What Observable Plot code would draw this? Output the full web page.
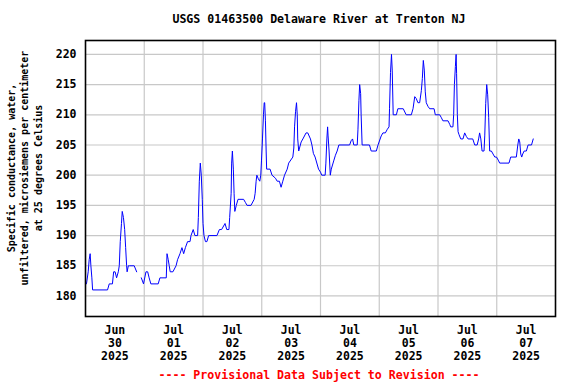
<!DOCTYPE html>
<html>
<head>
<meta charset="utf-8">
<script src="https://cdn.jsdelivr.net/npm/d3@7"></script>
<script src="https://cdn.jsdelivr.net/npm/@observablehq/plot@0.6"></script>
<style>
  html, body { margin: 0; padding: 0; background: #fff; }
</style>
</head>
<body>
<div id="chart"></div>
<script>
// Hours since 2025-06-30 00:00 and specific conductance readings (null = missing)
const hours = [0,0.4,1.1,1.5,1.9,2.2,2.6,2.9,9.0,9.7,11.0,11.5,12.1,12.7,13.4,13.8,14.2,14.7,15.0,15.5,16.0,16.4,16.8,17.0,17.5,18.0,19.9,20.9,21.8,22.8,23.7,24.7,25.4,26.0,26.7,29.7,30.4,33.0,33.3,33.8,34.2,34.6,35.7,37.0,37.6,38.6,39.4,40.1,40.8,41.7,42.7,43.1,44.0,44.7,45.8,46.1,46.5,46.9,47.3,47.7,48.0,48.4,49.0,49.6,50.3,53.7,54.7,55.6,57.0,57.7,58.6,58.9,59.5,59.7,60.0,60.4,60.7,61.0,61.6,62.3,64.6,65.3,66.0,67.6,68.9,69.3,69.7,70.0,70.6,71.2,71.6,71.9,72.3,72.7,73.0,73.2,73.5,73.8,74.0,75.4,76.2,77.6,78.3,79.2,79.9,80.6,81.3,82.4,83.0,84.7,85.1,85.4,85.8,86.2,86.5,86.7,87.1,88.1,88.8,90.1,90.8,91.9,92.5,93.1,93.8,95.2,96.0,96.5,97.9,98.2,98.6,98.9,99.1,99.5,100.0,100.4,101.5,102.1,102.8,103.5,107.9,108.5,109.1,109.6,111.0,111.3,111.7,112.0,112.4,112.6,113.0,116.0,116.7,118.8,119.5,120.8,121.5,122.5,123.3,124.0,124.2,124.6,125.0,125.3,125.7,127.0,127.6,129.8,131.0,133.1,133.8,134.5,135.1,135.8,136.5,137.2,137.6,138.0,138.4,138.8,139.2,139.9,140.6,142.4,142.9,144.7,145.4,146.0,148.1,148.8,149.2,150.1,150.4,150.7,151.1,151.4,151.6,151.9,152.2,152.6,153.3,154.2,154.9,155.6,156.3,158.2,159.0,160.0,160.6,161.0,161.5,162.0,162.8,163.1,163.5,163.9,164.3,164.7,165.1,165.8,166.5,167.2,167.9,168.6,169.2,173.0,173.7,176.0,176.6,177.0,177.4,177.8,178.2,178.6,179.2,180.1,180.8,182.2,182.9];
const values = [182,182,184,186,187,185,183,181,181,182,182,184,184,183,184,185,189,192,194,193,191,188,185,184,185,185,185,184,null,183,182,184,184,183,182,182,183,183,187,186,185,184,184,185,186,187,188,187,188,189,189,190,191,190,190,193,199,202,200,196,192,190,189,189,190,190,191,191,192,191,191,193,197,202,204,201,197,194,195,196,196,195.5,195,195,196,197,199,200,199.4,199,200,202.5,206,210,212,212,209,204,201,201,200,199.5,199,199,198,199,200,201,202,203,204.5,208,210.5,212,210,206,204,205.5,206,207,207,206,205,203.6,203,201,200.5,200,200,202,206,208,206.5,204,200,201,202.5,203.3,204,205,205,205.7,206,205,205,207.5,212.4,215,213.5,210,205,205,204,204,205,206.5,207,207,207.6,208,211,217,220,217.4,210,210,211,211,210,210,211,213,212.7,212,212,214,216,219,217.4,213.8,212,211.4,211,211,210,210,209.5,209,209,208.4,208,208,210,215,218,220,216.8,210,207.2,206.7,206,206,207,206.4,206,206,205,205,206,207,206,204,204,206.5,211.9,215,213.3,209.6,204,204,203.5,203,203,202.5,202,202,203,203,205,206,205.5,203.5,203,203.5,204,204,205,205,206];

const yTicks = [180,185,190,195,200,205,210,215,220];
const tickMonths = ["Jun","Jul","Jul","Jul","Jul","Jul","Jul","Jul"];
const tickDays = ["30","01","02","03","04","05","06","07"];
const tickYears = ["2025","2025","2025","2025","2025","2025","2025","2025"];

const titleText = "USGS 01463500 Delaware River at Trenton NJ";
const yLabelLines = ["Specific conductance, water,", "unfiltered, microsiemens per centimeter", "at 25 degrees Celsius"];
const footerText = "---- Provisional Data Subject to Revision ----";

const start = Date.UTC(2025, 5, 30);
const DAY = 864e5;
const data = hours.map((h, i) => ({t: new Date(start + h * 3600e3), v: values[i]}));
const gridDates = d3.range(1, 8).map(k => new Date(start + k * DAY));
const tickDates = d3.range(0, 8).map(k => new Date(start + k * DAY + DAY / 2));

const font = "'DejaVu Sans Mono', monospace";

const svg = Plot.plot({
  width: 576,
  height: 384,
  marginLeft: 85,
  marginRight: 21,
  marginTop: 40,
  marginBottom: 68,
  style: {fontFamily: font, fontSize: "11.5px", fontWeight: "bold", color: "black", background: "white"},
  x: {type: "utc", domain: [new Date(start), new Date(start + 8 * DAY)]},
  y: {domain: [176.6, 222.3]},
  marks: [
    Plot.gridX(gridDates, {stroke: "#c8c8c8", strokeOpacity: 1, strokeWidth: 1.2}),
    Plot.gridY(yTicks, {stroke: "#c8c8c8", strokeOpacity: 1, strokeWidth: 1.2}),
    Plot.line(data, {x: "t", y: "v", stroke: "#0000ff", strokeWidth: 1}),
    Plot.frame({stroke: "black", strokeWidth: 1.6}),
    Plot.axisY(yTicks, {tickSize: 0, tickPadding: 9, label: null, fontSize: 11.5}),
    Plot.axisX(tickDates, {
      tickSize: 0, tickPadding: 8, label: null, fontSize: 11.5, lineHeight: 1.14,
      tickFormat: (d) => {
        const i = tickDates.findIndex(t => +t === +d);
        return `${tickMonths[i]}\n${tickDays[i]}\n${tickYears[i]}`;
      }
    })
  ]
});

const s = d3.select(svg);
s.append("text")
  .attr("x", 319).attr("y", 23)
  .attr("text-anchor", "middle")
  .attr("font-family", font).attr("font-size", 11.6).attr("font-weight", "bold")
  .attr("fill", "black")
  .text(titleText);

const yl = s.append("text")
  .attr("transform", "translate(0,168) rotate(-90)")
  .attr("text-anchor", "middle")
  .attr("font-family", font).attr("font-size", 10).attr("font-weight", "bold")
  .attr("fill", "black");
[14.5, 28, 41.5].forEach((xx, i) => {
  yl.append("tspan").attr("x", 0).attr("y", xx).text(yLabelLines[i]);
});

s.append("text")
  .attr("x", 319).attr("y", 379)
  .attr("text-anchor", "middle")
  .attr("font-family", font).attr("font-size", 11.6).attr("font-weight", "bold")
  .attr("fill", "#ff0000")
  .text(footerText);

document.getElementById("chart").appendChild(svg);
</script>
</body>
</html>
